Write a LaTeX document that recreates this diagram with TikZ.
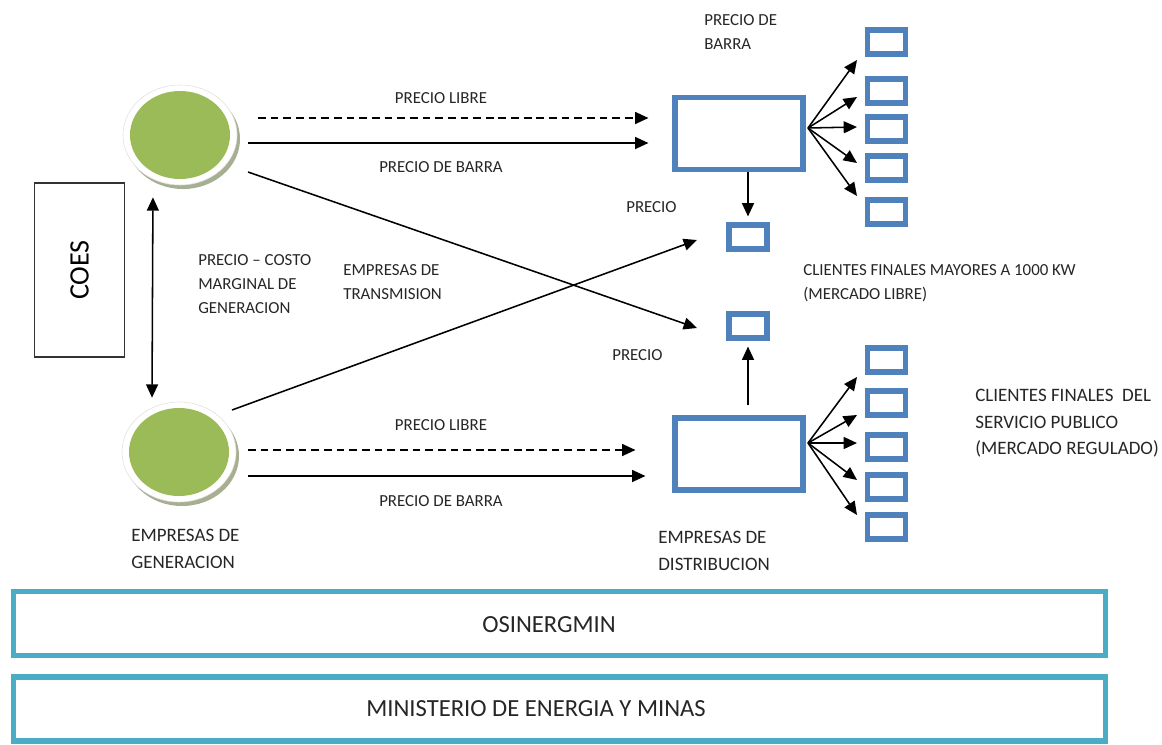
\documentclass[tikz,border=0pt]{standalone}
\usepackage{fontspec}
\setmainfont{Carlito}
\usetikzlibrary{arrows.meta,shapes.geometric}
\definecolor{boxblue}{HTML}{4F81BD}
\definecolor{barteal}{HTML}{4BACC6}
\definecolor{gengreen}{HTML}{9BBB59}
\definecolor{genshade}{HTML}{A7AF93}

\begin{document}
\begin{tikzpicture}[x=0.025cm, y=-0.025cm,
  arr/.style={line width=1.1pt, -{Triangle[length=9.5pt,width=8.5pt]}},
  dblarr/.style={line width=1.1pt, {Triangle[length=9.5pt,width=8.5pt]}-{Triangle[length=9.5pt,width=8.5pt]}},
  lbl/.style={font=\fontsize{12}{17}\selectfont, inner sep=0pt, align=left, text=black!85},
  biglbl/.style={font=\fontsize{13.5}{18.8}\selectfont, inner sep=0pt, align=left, text=black!85},
  mainbox/.style={draw=boxblue, line width=3.6pt, minimum width=3.2cm, minimum height=1.8cm},
  clibox/.style={draw=boxblue, line width=3.6pt, minimum width=0.95cm, minimum height=0.6cm},
  govbar/.style={draw=barteal, line width=3.6pt, minimum width=27.3cm, minimum height=1.6cm},
  govlbl/.style={font=\fontsize{17.5}{20}\selectfont, text=black!85, inner sep=0pt},
  genring/.style={ellipse, draw=black!12, fill=white, minimum width=2.85cm,
                  minimum height=2.5cm, inner sep=0pt},
  genshadow/.style={ellipse, fill=genshade, minimum width=2.85cm,
                    minimum height=2.5cm, inner sep=0pt},
  gendisc/.style={ellipse, fill=gengreen, minimum width=2.5cm,
                  minimum height=2.2cm, inner sep=0pt}
]
\useasboundingbox (0,0) rectangle (1162,744);

% generadoras
\node[genshadow] (genTopS) at (183,139) {};
\node[genring] (genTop) at (180,135) {};
\node[gendisc] (genTopIn) at (180,135) {};
\node[genshadow] (genBotS) at (182,456) {};
\node[genring] (genBot) at (179,452) {};
\node[gendisc] (genBotIn) at (179,452) {};

\node[draw=black!80, line width=1.1pt, rotate=90, minimum width=4.35cm, minimum height=2.25cm,
      font=\fontsize{20}{24}\selectfont] (coes) at (79.5,270) {COES};

% libre / regulado
\node[mainbox] (boxLibre) at (739,133.5) {};
\node[mainbox] (boxReg) at (739,454) {};
\node[clibox] (precA) at (748,237) {};
\node[clibox] (precB) at (748,326) {};

\foreach \yy [count=\i] in {42,91,129,168,212}
  \node[clibox] (cliA\i) at (886.5,\yy) {};
\foreach \yy [count=\i] in {360,403,447,487,527}
  \node[clibox] (cliB\i) at (886.5,\yy) {};

\node[govbar] (osin) at (559.5,623.5) {};
\node[govlbl] (osinTxt) at (549,625) {OSINERGMIN};
\node[govbar] (minem) at (559.5,709) {};
\node[govlbl] (minemTxt) at (536,709) {MINISTERIO DE ENERGIA Y MINAS};

% flechas
\draw[dblarr, shorten <=0.3cm, shorten >=0.1cm]
  ([xshift=-0.675cm]genTop.south) -- ([xshift=-0.675cm]genBot.north);

\coordinate (dA) at (258,118);
\coordinate (sA) at (248,143);
\coordinate (dB) at (248,450);
\coordinate (sB) at (248,476);
\draw[arr, dashed, dash pattern=on 5.5pt off 3.5pt, shorten >=0.6cm] (dA) -- (dA -| boxLibre.west);
\draw[arr, shorten >=0.6cm] (sA) -- (sA -| boxLibre.west);
\draw[arr, dashed, dash pattern=on 5.5pt off 3.5pt, shorten >=0.925cm] (dB) -- (dB -| boxReg.west);
\draw[arr, shorten >=0.675cm] (sB) -- (sB -| boxReg.west);

\coordinate (crA) at (248,172);
\coordinate (crAe) at (697,328);
\coordinate (crB) at (232,410);
\coordinate (crBe) at (697,240);
\draw[arr] (crA) -- (crAe);
\draw[arr] (crB) -- (crBe);

\draw[arr, shorten >=0.15cm] (boxLibre.south -| precA) -- (precA.north);
\draw[arr, shorten <=0.25cm, shorten >=0.15cm] (boxReg.north -| precB) -- (precB.south);

\coordinate (fanA) at (808,128);
\foreach \yy [count=\i] in {60,97,127,163,196} {
  \coordinate (tipA\i) at (857,\yy);
  \draw[arr] (fanA) -- (tipA\i);
}
\coordinate (fanB) at (808,443);
\foreach \yy [count=\i] in {377,415,443,480,515} {
  \coordinate (tipB\i) at (857,\yy);
  \draw[arr] (fanB) -- (tipB\i);
}

% textos
\node[lbl] (tLibreA) at (441,98) {PRECIO LIBRE};
\node[lbl] (tBarraA) at (441,167) {PRECIO DE BARRA};
\node[lbl] (tLibreB) at (441,425) {PRECIO LIBRE};
\node[lbl] (tBarraB) at (441,501) {PRECIO DE BARRA};
\node[lbl, anchor=north west] (tBarraTop) at (704,14.5) {PRECIO DE\\BARRA};
\node[lbl, anchor=west] (tPrecA) at (626,207) {PRECIO};
\node[lbl, anchor=west] (tPrecB) at (612,355) {PRECIO};
\node[lbl, anchor=north west] (tCosto) at (198,254.5) {PRECIO -- COSTO\\MARGINAL DE\\GENERACION};
\node[lbl, anchor=north west] (tTrans) at (343,264.5) {EMPRESAS DE\\TRANSMISION};
\node[lbl, anchor=north west] (tMayores) at (803,264.5) {CLIENTES FINALES MAYORES A 1000 KW\\(MERCADO LIBRE)};
\node[biglbl, anchor=north west] (tPublico) at (975,389) {CLIENTES FINALES\ \ DEL\\SERVICIO PUBLICO\\(MERCADO REGULADO)};
\node[biglbl, anchor=north west] (tGen) at (131,529) {EMPRESAS DE\\GENERACION};
\node[biglbl, anchor=north west] (tDist) at (658,531) {EMPRESAS DE\\DISTRIBUCION};
\end{tikzpicture}
\end{document}
